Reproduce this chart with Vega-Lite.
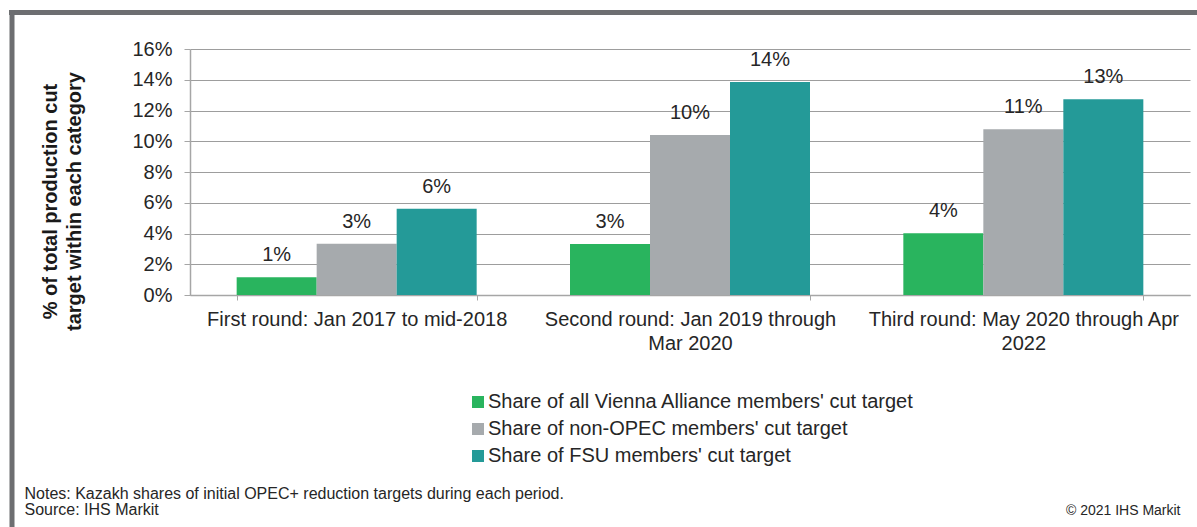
{
  "$schema": "https://vega.github.io/schema/vega-lite/v6.json",
  "autosize": {"type": "none"},
  "padding": {"left": 190, "top": 49, "right": 7, "bottom": 232},
  "width": 1000,
  "height": 246,
  "background": "white",
  "config": {
    "font": "Liberation Sans",
    "view": {"stroke": null},
    "axis": {"labelColor": "#262626", "titleColor": "#1a1a1a"}
  },
  "data": {
    "values": [
      {"round": "First round: Jan 2017 to mid-2018", "series": "Share of all Vienna Alliance members' cut target", "value": 0.0115},
      {"round": "First round: Jan 2017 to mid-2018", "series": "Share of non-OPEC members' cut target", "value": 0.0334},
      {"round": "First round: Jan 2017 to mid-2018", "series": "Share of FSU members' cut target", "value": 0.0561},
      {"round": "Second round: Jan 2019 through Mar 2020", "series": "Share of all Vienna Alliance members' cut target", "value": 0.0332},
      {"round": "Second round: Jan 2019 through Mar 2020", "series": "Share of non-OPEC members' cut target", "value": 0.1041},
      {"round": "Second round: Jan 2019 through Mar 2020", "series": "Share of FSU members' cut target", "value": 0.1385},
      {"round": "Third round: May 2020 through Apr 2022", "series": "Share of all Vienna Alliance members' cut target", "value": 0.0401},
      {"round": "Third round: May 2020 through Apr 2022", "series": "Share of non-OPEC members' cut target", "value": 0.1078},
      {"round": "Third round: May 2020 through Apr 2022", "series": "Share of FSU members' cut target", "value": 0.1273}
    ]
  },
  "resolve": {"axis": {"x": "independent"}},
  "layer": [
    {
      "mark": {"type": "bar"},
      "encoding": {
        "x": {
          "field": "round",
          "type": "nominal",
          "sort": null,
          "scale": {
            "domain": ["First round: Jan 2017 to mid-2018", "Second round: Jan 2019 through Mar 2020", "Third round: May 2020 through Apr 2022"],
            "paddingInner": 0.28,
            "paddingOuter": 0.14
          },
          "axis": {
            "orient": "bottom",
            "labelAngle": 0,
            "labelFontSize": 20,
            "labelLineHeight": 24,
            "labelPadding": 9,
            "labelLimit": 0,
            "labelExpr": "datum.value == 'Second round: Jan 2019 through Mar 2020' ? ['Second round: Jan 2019 through', 'Mar 2020'] : datum.value == 'Third round: May 2020 through Apr 2022' ? ['Third round: May 2020 through Apr', '2022'] : datum.label",
            "tickBand": "extent",
            "tickSize": 5,
            "tickColor": "#a6a6a6",
            "domainColor": "#a6a6a6",
            "domainWidth": 1.5,
            "grid": false,
            "title": ["Notes: Kazakh shares of initial OPEC+ reduction targets during each period.", "Source: IHS Markit"],
            "titleFontSize": 16,
            "titleFontWeight": "normal",
            "titleLineHeight": 16,
            "titleColor": "#262626",
            "titleAlign": "left",
            "titleBaseline": "top",
            "titleX": -166,
            "titleY": 190
          }
        },
        "xOffset": {
          "field": "series",
          "type": "nominal",
          "scale": {
            "domain": ["Share of all Vienna Alliance members' cut target", "Share of non-OPEC members' cut target", "Share of FSU members' cut target"],
            "paddingInner": 0,
            "paddingOuter": 0
          }
        },
        "y": {
          "field": "value",
          "type": "quantitative",
          "scale": {"domain": [0, 0.16], "nice": false},
          "axis": {
            "values": [0, 0.02, 0.04, 0.06, 0.08, 0.1, 0.12, 0.14, 0.16],
            "format": ".0%",
            "labelFontSize": 20,
            "labelPadding": 12,
            "tickSize": 6,
            "tickColor": "#a6a6a6",
            "domainColor": "#a6a6a6",
            "domainWidth": 1.5,
            "gridColor": "#9d9d9d",
            "gridWidth": 1.2,
            "title": ["% of total production cut", "target within each category"],
            "titleFontSize": 20,
            "titleFontWeight": "bold",
            "titleLineHeight": 24,
            "titleAlign": "center",
            "titleBaseline": "top",
            "titleAngle": -90,
            "titleX": -150,
            "titleY": 152
          }
        },
        "color": {
          "field": "series",
          "type": "nominal",
          "scale": {
            "domain": ["Share of all Vienna Alliance members' cut target", "Share of non-OPEC members' cut target", "Share of FSU members' cut target"],
            "range": ["#29b45e", "#a6aaad", "#249a98"]
          },
          "legend": {
            "title": null,
            "orient": "none",
            "legendX": 278,
            "legendY": 343,
            "direction": "vertical",
            "symbolType": "square",
            "symbolSize": 144,
            "symbolStrokeWidth": 0,
            "labelFontSize": 20,
            "labelColor": "#262626",
            "labelOffset": 0,
            "labelLimit": 0,
            "rowPadding": 7
          }
        }
      }
    },
    {
      "mark": {"type": "text", "dy": -16, "baseline": "alphabetic", "fontSize": 20, "color": "#262626"},
      "encoding": {
        "x": {
          "field": "round",
          "type": "nominal",
          "sort": null,
          "axis": {
            "orient": "bottom",
            "labels": false,
            "ticks": false,
            "domain": false,
            "grid": false,
            "title": "© 2021 IHS Markit",
            "titleFontSize": 14,
            "titleFontWeight": "normal",
            "titleColor": "#262626",
            "titleAlign": "right",
            "titleBaseline": "top",
            "titleX": 990,
            "titleY": 208
          }
        },
        "xOffset": {"field": "series", "type": "nominal"},
        "y": {
          "field": "value",
          "type": "quantitative",
          "axis": {
            "values": [0, 0.02, 0.04, 0.06, 0.08, 0.1, 0.12, 0.14, 0.16],
            "format": ".0%",
            "labelFontSize": 20,
            "labelPadding": 12,
            "tickSize": 6,
            "tickColor": "#a6a6a6",
            "domainColor": "#a6a6a6",
            "domainWidth": 1.5,
            "gridColor": "#9d9d9d",
            "gridWidth": 1.2,
            "title": ["% of total production cut", "target within each category"],
            "titleFontSize": 20,
            "titleFontWeight": "bold",
            "titleLineHeight": 24,
            "titleAlign": "center",
            "titleBaseline": "top",
            "titleAngle": -90,
            "titleX": -150,
            "titleY": 152
          }
        },
        "text": {"field": "value", "type": "quantitative", "format": ".0%"}
      }
    },
    {
      "data": {"values": [{}]},
      "mark": {"type": "rule", "color": "#6d6e71", "strokeWidth": 5},
      "encoding": {
        "x": {"value": -181},
        "x2": {"value": 1007},
        "y": {"value": -36.5}
      }
    },
    {
      "data": {"values": [{}]},
      "mark": {"type": "rule", "color": "#6d6e71", "strokeWidth": 5},
      "encoding": {
        "x": {"value": -178},
        "y": {"value": -39},
        "y2": {"value": 478}
      }
    }
  ]
}
